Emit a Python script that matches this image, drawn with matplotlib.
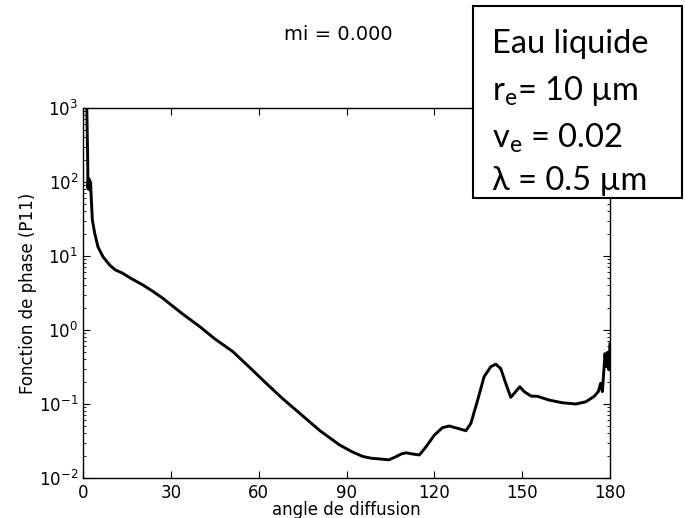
import matplotlib
matplotlib.use("Agg")
import matplotlib.pyplot as plt
from matplotlib.patches import Rectangle

# digitised phase function (P11) vs scattering angle
angle = [0.9, 1.3, 1.6, 1.7, 1.85, 2.0, 2.2, 2.4, 2.6, 2.8, 3.2, 4.0, 5.1, 6.8, 9.1, 11.0,
         13.6, 16.5, 20.5, 23.5, 27.3, 30, 34, 39.9, 45, 51.2, 57, 62.6, 68, 74.0, 80.8, 87.6,
         92, 95.6, 98.5, 101.3, 104.5, 106.9, 108.8, 110.4, 112.6, 114.9, 117.2, 120.0,
         122.8, 125.1, 127.9, 130.8, 132.5, 134.8, 137.0, 139.3, 141.0, 142.7, 144.4,
         146.1, 147.8, 149.2, 150.7, 153.0, 155.2, 159.2, 163.7, 168.3, 171.7, 174.5,
         176.0, 176.8, 177.4, 178.3, 178.7, 179.2, 179.6, 180.0]
p11 = [5000, 1000, 200, 82, 112, 80, 108, 78, 100, 62, 30.6, 20.3, 13.3, 9.8, 7.55, 6.5,
       5.83, 4.95, 4.05, 3.4, 2.68, 2.2, 1.65, 1.11, 0.76, 0.51, 0.31, 0.19, 0.12, 0.075, 0.044, 0.028,
       0.0225, 0.0195, 0.0185, 0.0181, 0.0176, 0.0194, 0.0212, 0.0219, 0.0211, 0.0205, 0.0265, 0.038,
       0.048, 0.0504, 0.047, 0.0435, 0.055, 0.113, 0.234, 0.32, 0.345, 0.30, 0.19,
       0.123, 0.147, 0.171, 0.147, 0.128, 0.127, 0.113, 0.104, 0.100, 0.107, 0.126,
       0.147, 0.19, 0.147, 0.48, 0.32, 0.50, 0.29, 0.65]

xticks = [0, 30, 60, 90, 120, 150, 180]
title = "mi = 0.000"
box_lines = ["Eau liquide", r"r$_\mathregular{e}$= 10 µm",
             r"v$_\mathregular{e}$ = 0.02", "λ = 0.5 µm"]

W, H = 685, 518
fig = plt.figure(figsize=(W / 100, H / 100), dpi=100, facecolor="white")
ax = fig.add_axes([83 / W, 1 - 478 / H, 527 / W, 370 / H])

ax.plot(angle, p11, color="black", lw=2.1, solid_joinstyle="round")
ax.set_yscale("log")
ax.set_xlim(0, 180)
ax.set_ylim(1e-2, 1e3)
ax.set_xticks(xticks)
ax.tick_params(which="both", direction="in", top=True, right=True, labelsize=12)
ax.tick_params(which="major", length=5)
ax.tick_params(which="minor", length=2.5)
ax.tick_params(axis="x", pad=4)
for sp in ax.spines.values():
    sp.set_linewidth(1.0)

ax.set_xlabel("angle de diffusion", fontsize=12)
ax.xaxis.set_label_coords(0.5, -0.062)
ax.set_ylabel("Fonction de phase (P11)", fontsize=12)
ax.yaxis.set_label_coords(-0.087, 0.5)

fig.text(338 / W, 1 - 35 / H, title, fontsize=14, ha="center", va="center")

# annotation box drawn over the top right corner of the axes
fig.add_artist(Rectangle((473 / W, 1 - 198 / H), 209 / W, 192 / H,
                         transform=fig.transFigure, facecolor="white",
                         edgecolor="black", lw=1.5, zorder=5))
baselines = [53, 100, 147, 190]
for line, yb in zip(box_lines, baselines):
    fig.text(492 / W, 1 - yb / H, line, fontsize=23.5, family="Lato",
             ha="left", va="baseline", zorder=6)

fig.savefig("out.png", dpi=100)
